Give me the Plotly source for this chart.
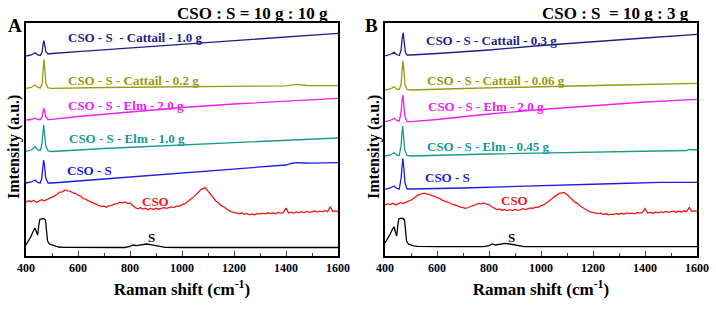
import plotly.graph_objects as go

# ---------------- data (heights in arbitrary intensity units, offset-stacked) ----------------
# Panel A  (CSO : S = 10 g : 10 g)
a_cat10_x = [400, 420, 435, 445, 455, 462, 466, 469, 472, 477, 485, 500, 600, 700, 800, 900, 1000, 1100, 1200, 1300, 1400, 1500, 1600]
a_cat10_y = [200, 201, 203.3, 201, 200.5, 204, 212, 215.3, 211, 204, 202, 202.5, 204.3, 206.2, 208, 209.6, 211.7, 213.5, 215.1, 217.2, 219, 220.9, 222.7]

a_cat02_x = [400, 420, 435, 445, 455, 462, 466, 469, 472, 477, 485, 500, 700, 1000, 1300, 1400, 1440, 1480, 1600]
a_cat02_y = [167.7, 168.5, 171, 168.5, 168, 172, 186, 196.7, 188, 172, 168, 167.7, 168.5, 169, 169.5, 170.2, 171.7, 170.5, 170.3]

a_elm20_x = [400, 420, 435, 445, 455, 462, 466, 469, 472, 477, 485, 500, 600, 800, 1000, 1200, 1400, 1600]
a_elm20_y = [136, 136.5, 138, 136.5, 136.5, 139, 145, 147.7, 144, 138.5, 136.5, 136.7, 139.5, 144, 148.5, 152, 155, 157.7]

a_elm10_x = [400, 420, 435, 445, 455, 461, 465, 468, 471, 476, 485, 500, 700, 1000, 1300, 1600]
a_elm10_y = [104.5, 106, 109.3, 106, 105.5, 111, 123, 131, 123, 110, 105, 104.5, 107.5, 111, 115, 118]

a_csos_x = [400, 420, 435, 445, 455, 461, 465, 468, 471, 476, 485, 500, 700, 900, 1146, 1300, 1400, 1420, 1440, 1470, 1500, 1600]
a_csos_y = [73, 74, 76, 73.5, 73, 78, 90, 96, 91, 78, 73, 73, 77, 81, 86, 89, 91, 92.5, 93.3, 93, 92.8, 93.3]

cso_x = list(range(400, 1601, 10))
a_cso_y = [54.0, 55.2, 54.3, 55.8, 53.6, 55.0, 56.3, 55.1, 56.4, 57.0,
           58.2, 60.1, 61.8, 63.9, 64.2, 66.0, 65.1, 64.8, 63.2, 62.7,
           60.8, 59.9, 57.4, 56.9, 55.1, 54.0, 52.4, 51.9, 50.2, 49.5,
           49.9, 48.8, 50.3, 50.6, 51.9, 52.3, 53.8, 53.0, 54.1, 52.7,
           52.9, 50.6, 48.4, 47.2, 48.3, 46.9, 47.8, 46.3, 47.5, 46.4,
           47.9, 46.8, 47.3, 48.4, 47.6, 48.5, 49.1, 48.7, 50.0, 49.6,
           51.3, 52.0, 53.8, 55.2, 57.9, 60.4, 63.5, 65.8, 67.3, 68.2,
           64.9, 61.5, 58.3, 55.0, 53.2, 50.4, 49.3, 47.1, 45.6, 44.2,
           43.8, 43.1, 42.4, 43.0, 41.7, 42.3, 41.2, 42.0, 41.3, 42.6,
           41.9, 42.8, 42.1, 43.2, 42.4, 43.0, 42.2, 43.6, 42.9, 43.4,
           48.0, 43.1, 43.8, 42.9, 44.0, 43.2, 44.3, 43.5, 44.6, 43.7,
           44.2, 45.0, 43.9, 44.8, 44.1, 45.3, 44.4, 49.0, 44.6, 45.2,
           44.5]

s_x = [400, 410, 420, 428, 435, 440, 445, 449, 453, 458, 465, 470, 475, 479, 483, 490, 500, 510, 525, 550, 600, 700, 780, 800, 812, 825, 845, 864, 880, 900, 920, 935, 1000, 1200, 1600]
a_s_y = [11, 15, 20, 25, 28, 24, 21, 30, 36.5, 37, 37.5, 37, 36, 25, 15, 12, 11, 10, 9, 8.6, 8.5, 8.4, 8.5, 9.5, 11, 10.3, 11, 12, 11.3, 10.5, 9.2, 8.6, 8.5, 8.5, 8.5]

# Panel B  (CSO : S = 10 g : 3 g)
b_cat03_x = [400, 420, 435, 445, 455, 462, 466, 470, 473, 478, 485, 500, 600, 800, 1000, 1200, 1400, 1600]
b_cat03_y = [200, 201.5, 203.7, 201.5, 200.5, 206, 218, 223.3, 216, 204, 201, 201, 202.5, 206, 210.5, 214.5, 218, 221.7]

b_cat006_x = [400, 420, 435, 445, 455, 462, 466, 469, 472, 477, 485, 500, 700, 1000, 1300, 1600]
b_cat006_y = [166, 167, 169.3, 167, 166.5, 172, 186, 195.3, 188, 171, 166.5, 166, 167.5, 169.5, 171, 172.7]

b_elm20_x = [400, 420, 435, 445, 455, 462, 466, 469, 472, 477, 485, 500, 600, 800, 1000, 1200, 1400, 1600]
b_elm20_y = [134.3, 135.5, 137.7, 135.5, 135, 144, 156, 161, 152, 139, 134.5, 134.3, 136.5, 142, 146.5, 150.5, 154, 156.7]

b_elm045_x = [400, 420, 435, 445, 455, 462, 465, 468, 471, 476, 485, 500, 800, 1100, 1400, 1560, 1570, 1600]
b_elm045_y = [100, 101, 103.3, 101, 100.5, 111, 122, 130, 121, 106, 100.5, 100, 102, 103.5, 105, 105.5, 106.5, 106]

b_csos_x = [400, 420, 435, 445, 455, 462, 466, 469, 472, 477, 485, 500, 700, 1046, 1300, 1458, 1600]
b_csos_y = [66.7, 68, 70, 67.5, 67, 78, 91, 97.5, 89, 73, 67, 67, 68, 71, 72.5, 73.7, 73.7]

b_cso_y = [51.0, 52.3, 51.4, 52.8, 51.1, 52.6, 53.4, 52.5, 54.0, 54.8,
           56.0, 57.9, 59.6, 61.3, 62.0, 62.8, 62.1, 61.6, 60.3, 59.8,
           58.4, 57.6, 55.9, 55.2, 53.8, 53.0, 51.4, 51.0, 49.6, 48.9,
           48.3, 47.6, 48.5, 49.4, 50.6, 51.3, 52.7, 52.2, 53.1, 51.9,
           51.5, 49.3, 47.6, 46.4, 47.1, 45.8, 46.5, 45.4, 46.3, 45.5,
           46.6, 45.7, 46.2, 47.3, 46.5, 47.4, 48.0, 47.6, 48.9, 48.6,
           50.3, 51.0, 52.8, 54.3, 56.8, 58.9, 61.2, 62.6, 63.1, 63.3,
           61.4, 58.9, 56.2, 53.9, 52.6, 49.9, 48.5, 46.6, 45.2, 44.0,
           43.6, 42.9, 42.3, 42.8, 41.6, 42.2, 41.1, 41.9, 41.4, 42.5,
           41.8, 42.7, 42.0, 43.1, 42.3, 42.9, 42.1, 43.5, 42.8, 43.3,
           47.5, 43.0, 43.6, 42.8, 43.9, 43.1, 44.1, 43.4, 44.5, 43.6,
           44.1, 44.9, 43.8, 44.7, 44.0, 45.2, 44.3, 48.5, 44.5, 45.1,
           44.6]

b_s_y = [13, 17, 22, 26.5, 29.3, 24, 20, 30, 37, 37.7, 37.8, 37.5, 36, 25, 15, 12, 11, 10.2, 9.6, 9.3, 9.3, 9.3, 9.4, 10.3, 12, 11, 11.7, 12.7, 12, 11.1, 10, 9.4, 9.3, 9.3, 9.3]

labels_a = ["CSO - S  - Cattail - 1.0 g", "CSO - S - Cattail - 0.2 g", "CSO - S - Elm - 2.0 g",
            "CSO - S - Elm - 1.0 g", "CSO - S", "CSO", "S"]
labels_b = ["CSO - S - Cattail - 0.3 g", "CSO - S - Cattail - 0.06 g", "CSO - S - Elm - 2.0 g",
            "CSO - S - Elm - 0.45 g", "CSO - S", "CSO", "S"]
colors = ["#1f1f8a", "#9a9a10", "#f020f0", "#17998f", "#1c1ce6", "#f01818", "#000000"]

x_ticks = [400, 600, 800, 1000, 1200, 1400, 1600]

# ---------------- figure ----------------
fig = go.Figure()

series_a = [(a_cat10_x, a_cat10_y), (a_cat02_x, a_cat02_y), (a_elm20_x, a_elm20_y),
            (a_elm10_x, a_elm10_y), (a_csos_x, a_csos_y), (cso_x, a_cso_y), (s_x, a_s_y)]
series_b = [(b_cat03_x, b_cat03_y), (b_cat006_x, b_cat006_y), (b_elm20_x, b_elm20_y),
            (b_elm045_x, b_elm045_y), (b_csos_x, b_csos_y), (cso_x, b_cso_y), (s_x, b_s_y)]

for (xs, ys), c, name in zip(series_a, colors, labels_a):
    fig.add_trace(go.Scatter(x=xs, y=ys, mode="lines", line=dict(color=c, width=1.3),
                             name=name, xaxis="x", yaxis="y", showlegend=False))
for (xs, ys), c, name in zip(series_b, colors, labels_b):
    fig.add_trace(go.Scatter(x=xs, y=ys, mode="lines", line=dict(color=c, width=1.3),
                             name=name, xaxis="x2", yaxis="y2", showlegend=False))

FONT = "Liberation Serif"

# label anchor positions (data coords)
pos_a = [(819, 219), (813, 176), (785, 151), (787, 118), (646, 86), (898, 55), (883, 19)]
pos_b = [(810, 216), (825, 176), (787, 150), (798, 110), (642, 79), (898, 56), (885, 19)]

ann = []
for (px_, py_), t, c in zip(pos_a, labels_a, colors):
    ann.append(dict(x=px_, y=py_, xref="x", yref="y", text=t, showarrow=False,
                    xanchor="center", yanchor="middle",
                    font=dict(family=FONT, size=13, color=c, weight="bold")))
for (px_, py_), t, c in zip(pos_b, labels_b, colors):
    ann.append(dict(x=px_, y=py_, xref="x2", yref="y2", text=t, showarrow=False,
                    xanchor="center", yanchor="middle",
                    font=dict(family=FONT, size=13, color=c, weight="bold")))

W, H = 716, 310
def px(xp):
    return xp / W
def py(yp):
    return 1 - yp / H

def paper_text(x, y, text, size, angle=0):
    return dict(x=px(x), y=py(y), xref="paper", yref="paper", text=text, showarrow=False,
                xanchor="center", yanchor="middle", textangle=angle,
                font=dict(family=FONT, size=size, color="black", weight="bold"))

ann += [
    paper_text(253, 13, "CSO : S = 10 g : 10 g", 17),
    paper_text(615, 13, "CSO : S  = 10 g : 3 g", 17),
    paper_text(15, 26, "A", 19),
    paper_text(372, 26, "B", 19),
    paper_text(14, 147, "Imtensity (a.u.)", 16, -90),
    paper_text(374, 147, "Imtensity (a.u.)", 16, -90),
]

xaxis_common = dict(range=[400, 1600], tickvals=x_ticks, ticks="inside", ticklen=5, tickwidth=1,
                    minor=dict(dtick=100, ticks="inside", ticklen=3, tickwidth=1),
                    showline=True, linecolor="black", linewidth=1.5, mirror=True, showgrid=False,
                    zeroline=False, automargin=False,
                    tickfont=dict(family=FONT, size=12, color="black", weight="bold"),
                    title=dict(text="Raman shift (cm<sup>-1</sup>)", standoff=9,
                               font=dict(family=FONT, size=17, color="black", weight="bold")))
yaxis_common = dict(range=[0, 233], showticklabels=False, ticks="", showline=True, linecolor="black",
                    linewidth=1.5, mirror=True, showgrid=False, zeroline=False, automargin=False)

fig.update_layout(
    width=W, height=H, margin=dict(l=0, r=0, t=0, b=0, autoexpand=False),
    paper_bgcolor="white", plot_bgcolor="white",
    xaxis=dict(domain=[px(26), px(338)], anchor="y", **xaxis_common),
    yaxis=dict(domain=[py(256), py(23)], anchor="x", **yaxis_common),
    xaxis2=dict(domain=[px(385), px(697)], anchor="y2", **xaxis_common),
    yaxis2=dict(domain=[py(256), py(23)], anchor="x2", **yaxis_common),
    annotations=ann,
)

fig.write_html("out.html", config={"displayModeBar": False},
               post_script="document.body.style.margin='0';document.body.style.overflow='hidden';")
